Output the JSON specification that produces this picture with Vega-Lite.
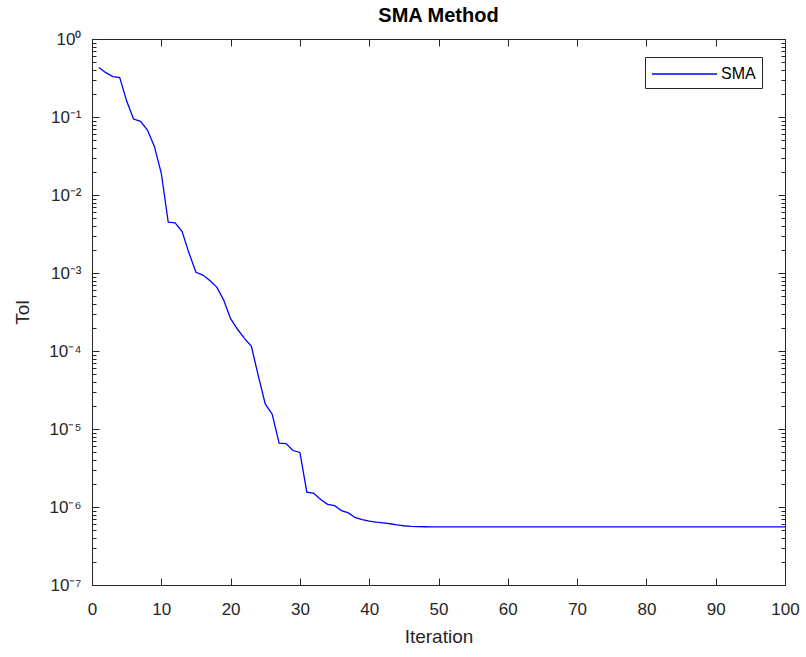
{
  "$schema": "https://vega.github.io/schema/vega-lite/v6.json",
  "autosize": "none",
  "width": 693,
  "height": 546,
  "padding": {"left": 92, "top": 39, "right": 21, "bottom": 72},
  "background": "white",
  "title": {"text": "SMA Method", "fontSize": 20, "fontWeight": "bold", "font": "Liberation Sans", "color": "#000000", "offset": 4, "anchor": "middle"},
  "config": {
    "view": {"stroke": "#262626", "strokeWidth": 1},
    "axis": {"labelFont": "Liberation Sans", "titleFont": "Liberation Sans", "labelColor": "#262626", "titleColor": "#262626", "domainColor": "#262626", "tickColor": "#262626", "tickWidth": 1, "grid": false, "labelFontSize": 17, "titleFontSize": 19, "titleFontWeight": "normal"}
  },
  "data": {"values": [
    {"it": 1, "tol": 0.43, "s": "SMA"},
    {"it": 2, "tol": 0.37, "s": "SMA"},
    {"it": 3, "tol": 0.33, "s": "SMA"},
    {"it": 4, "tol": 0.32, "s": "SMA"},
    {"it": 5, "tol": 0.16, "s": "SMA"},
    {"it": 6, "tol": 0.094, "s": "SMA"},
    {"it": 7, "tol": 0.088, "s": "SMA"},
    {"it": 8, "tol": 0.068, "s": "SMA"},
    {"it": 9, "tol": 0.042, "s": "SMA"},
    {"it": 10, "tol": 0.019, "s": "SMA"},
    {"it": 11, "tol": 0.0045, "s": "SMA"},
    {"it": 12, "tol": 0.0044, "s": "SMA"},
    {"it": 13, "tol": 0.0034, "s": "SMA"},
    {"it": 14, "tol": 0.0018, "s": "SMA"},
    {"it": 15, "tol": 0.00102, "s": "SMA"},
    {"it": 16, "tol": 0.00094, "s": "SMA"},
    {"it": 17, "tol": 0.0008, "s": "SMA"},
    {"it": 18, "tol": 0.00066, "s": "SMA"},
    {"it": 19, "tol": 0.00045, "s": "SMA"},
    {"it": 20, "tol": 0.00026, "s": "SMA"},
    {"it": 21, "tol": 0.00019, "s": "SMA"},
    {"it": 22, "tol": 0.000145, "s": "SMA"},
    {"it": 23, "tol": 0.000115, "s": "SMA"},
    {"it": 24, "tol": 0.000048, "s": "SMA"},
    {"it": 25, "tol": 0.000021, "s": "SMA"},
    {"it": 26, "tol": 0.0000155, "s": "SMA"},
    {"it": 27, "tol": 0.0000066, "s": "SMA"},
    {"it": 28, "tol": 0.0000065, "s": "SMA"},
    {"it": 29, "tol": 0.0000053, "s": "SMA"},
    {"it": 30, "tol": 0.000005, "s": "SMA"},
    {"it": 31, "tol": 0.00000155, "s": "SMA"},
    {"it": 32, "tol": 0.0000015, "s": "SMA"},
    {"it": 33, "tol": 0.00000125, "s": "SMA"},
    {"it": 34, "tol": 0.00000108, "s": "SMA"},
    {"it": 35, "tol": 0.00000104, "s": "SMA"},
    {"it": 36, "tol": 0.0000009, "s": "SMA"},
    {"it": 37, "tol": 0.00000084, "s": "SMA"},
    {"it": 38, "tol": 0.00000073, "s": "SMA"},
    {"it": 39, "tol": 0.00000069, "s": "SMA"},
    {"it": 40, "tol": 0.00000066, "s": "SMA"},
    {"it": 41, "tol": 0.00000064, "s": "SMA"},
    {"it": 42, "tol": 0.000000625, "s": "SMA"},
    {"it": 43, "tol": 0.00000061, "s": "SMA"},
    {"it": 44, "tol": 0.00000059, "s": "SMA"},
    {"it": 45, "tol": 0.000000575, "s": "SMA"},
    {"it": 46, "tol": 0.000000565, "s": "SMA"},
    {"it": 47, "tol": 0.00000056, "s": "SMA"},
    {"it": 48, "tol": 0.000000558, "s": "SMA"},
    {"it": 49, "tol": 0.000000557, "s": "SMA"},
    {"it": 50, "tol": 0.000000556, "s": "SMA"},
    {"it": 51, "tol": 0.000000556, "s": "SMA"},
    {"it": 52, "tol": 0.000000556, "s": "SMA"},
    {"it": 53, "tol": 0.000000556, "s": "SMA"},
    {"it": 54, "tol": 0.000000556, "s": "SMA"},
    {"it": 55, "tol": 0.000000556, "s": "SMA"},
    {"it": 56, "tol": 0.000000556, "s": "SMA"},
    {"it": 57, "tol": 0.000000556, "s": "SMA"},
    {"it": 58, "tol": 0.000000556, "s": "SMA"},
    {"it": 59, "tol": 0.000000556, "s": "SMA"},
    {"it": 60, "tol": 0.000000556, "s": "SMA"},
    {"it": 61, "tol": 0.000000556, "s": "SMA"},
    {"it": 62, "tol": 0.000000556, "s": "SMA"},
    {"it": 63, "tol": 0.000000556, "s": "SMA"},
    {"it": 64, "tol": 0.000000556, "s": "SMA"},
    {"it": 65, "tol": 0.000000556, "s": "SMA"},
    {"it": 66, "tol": 0.000000556, "s": "SMA"},
    {"it": 67, "tol": 0.000000556, "s": "SMA"},
    {"it": 68, "tol": 0.000000556, "s": "SMA"},
    {"it": 69, "tol": 0.000000556, "s": "SMA"},
    {"it": 70, "tol": 0.000000556, "s": "SMA"},
    {"it": 71, "tol": 0.000000556, "s": "SMA"},
    {"it": 72, "tol": 0.000000556, "s": "SMA"},
    {"it": 73, "tol": 0.000000556, "s": "SMA"},
    {"it": 74, "tol": 0.000000556, "s": "SMA"},
    {"it": 75, "tol": 0.000000556, "s": "SMA"},
    {"it": 76, "tol": 0.000000556, "s": "SMA"},
    {"it": 77, "tol": 0.000000556, "s": "SMA"},
    {"it": 78, "tol": 0.000000556, "s": "SMA"},
    {"it": 79, "tol": 0.000000556, "s": "SMA"},
    {"it": 80, "tol": 0.000000556, "s": "SMA"},
    {"it": 81, "tol": 0.000000556, "s": "SMA"},
    {"it": 82, "tol": 0.000000556, "s": "SMA"},
    {"it": 83, "tol": 0.000000556, "s": "SMA"},
    {"it": 84, "tol": 0.000000556, "s": "SMA"},
    {"it": 85, "tol": 0.000000556, "s": "SMA"},
    {"it": 86, "tol": 0.000000556, "s": "SMA"},
    {"it": 87, "tol": 0.000000556, "s": "SMA"},
    {"it": 88, "tol": 0.000000556, "s": "SMA"},
    {"it": 89, "tol": 0.000000556, "s": "SMA"},
    {"it": 90, "tol": 0.000000556, "s": "SMA"},
    {"it": 91, "tol": 0.000000556, "s": "SMA"},
    {"it": 92, "tol": 0.000000556, "s": "SMA"},
    {"it": 93, "tol": 0.000000556, "s": "SMA"},
    {"it": 94, "tol": 0.000000556, "s": "SMA"},
    {"it": 95, "tol": 0.000000556, "s": "SMA"},
    {"it": 96, "tol": 0.000000556, "s": "SMA"},
    {"it": 97, "tol": 0.000000556, "s": "SMA"},
    {"it": 98, "tol": 0.000000556, "s": "SMA"},
    {"it": 99, "tol": 0.000000556, "s": "SMA"},
    {"it": 100, "tol": 0.000000556, "s": "SMA"}
  ]},
  "layer": [
    {
      "mark": {"type": "line", "strokeWidth": 1.3, "clip": true},
      "encoding": {
        "x": {"field": "it", "type": "quantitative", "scale": {"domain": [0, 100], "nice": false, "zero": false},
          "axis": {"orient": "bottom", "title": "Iteration", "values": [0,10,20,30,40,50,60,70,80,90,100], "tickSize": -7, "labelPadding": 23, "titlePadding": 10, "labelFlush": false}},
        "y": {"field": "tol", "type": "quantitative", "scale": {"type": "log", "domain": [1e-7, 1], "nice": false},
          "axis": {"orient": "left", "title": "Tol", "titlePadding": 16,
            "values": [1e-7,2e-7,3e-7,4e-7,5e-7,6e-7,7e-7,8e-7,9e-7,1e-6,2e-6,3e-6,4e-6,5e-6,6e-6,7e-6,8e-6,9e-6,1e-5,2e-5,3e-5,4e-5,5e-5,6e-5,7e-5,8e-5,9e-5,1e-4,2e-4,3e-4,4e-4,5e-4,6e-4,7e-4,8e-4,9e-4,1e-3,2e-3,3e-3,4e-3,5e-3,6e-3,7e-3,8e-3,9e-3,1e-2,2e-2,3e-2,4e-2,5e-2,6e-2,7e-2,8e-2,9e-2,1e-1,2e-1,3e-1,4e-1,5e-1,6e-1,7e-1,8e-1,9e-1,1],
            "tickSize": {"condition": {"test": "abs(log(datum.value)/LN10 - round(log(datum.value)/LN10)) < 0.001", "value": -7}, "value": -4},
            "labelExpr": "abs(log(datum.value)/LN10 - round(log(datum.value)/LN10)) < 0.001 ? '10' + ['⁰','⁻¹','⁻²','⁻³','⁻⁴','⁻⁵','⁻⁶','⁻⁷'][-round(log(datum.value)/LN10)] : ''",
            "labelPadding": 18, "labelFlush": false, "labelOverlap": false}},
        "color": {"field": "s", "type": "nominal", "scale": {"range": ["#0000ff"]},
          "legend": {"title": null, "orient": "none", "legendX": 553, "legendY": 18, "strokeColor": "#262626", "fillColor": "white", "padding": 6, "symbolType": "M-1,0H5.5", "symbolSize": 400, "symbolStrokeWidth": 1.3, "labelFont": "Liberation Sans", "labelFontSize": 16, "labelColor": "#000000", "labelOffset": 48}}
      }
    },
    {
      "mark": {"type": "line", "opacity": 0},
      "encoding": {
        "x": {"field": "it", "type": "quantitative",
          "axis": {"orient": "top", "title": null, "labels": false, "values": [0,10,20,30,40,50,60,70,80,90,100], "tickSize": -7}},
        "y": {"field": "tol", "type": "quantitative",
          "axis": {"orient": "right", "title": null, "labels": false,
            "values": [1e-7,2e-7,3e-7,4e-7,5e-7,6e-7,7e-7,8e-7,9e-7,1e-6,2e-6,3e-6,4e-6,5e-6,6e-6,7e-6,8e-6,9e-6,1e-5,2e-5,3e-5,4e-5,5e-5,6e-5,7e-5,8e-5,9e-5,1e-4,2e-4,3e-4,4e-4,5e-4,6e-4,7e-4,8e-4,9e-4,1e-3,2e-3,3e-3,4e-3,5e-3,6e-3,7e-3,8e-3,9e-3,1e-2,2e-2,3e-2,4e-2,5e-2,6e-2,7e-2,8e-2,9e-2,1e-1,2e-1,3e-1,4e-1,5e-1,6e-1,7e-1,8e-1,9e-1,1],
            "tickSize": {"condition": {"test": "abs(log(datum.value)/LN10 - round(log(datum.value)/LN10)) < 0.001", "value": -7}, "value": -4}}}
      }
    }
  ],
  "resolve": {"axis": {"x": "independent", "y": "independent"}}
}
